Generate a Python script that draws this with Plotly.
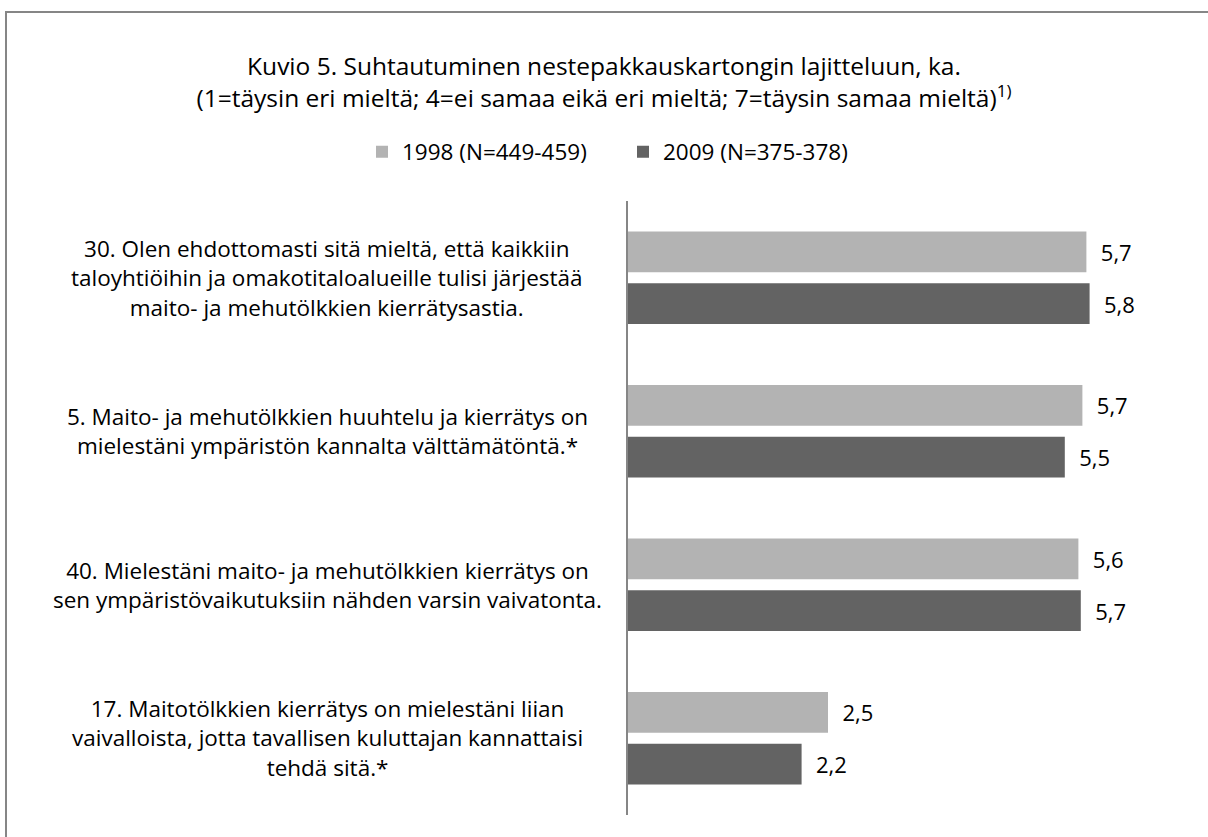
import plotly.graph_objects as go

categories = [
    "30. Olen ehdottomasti sitä mieltä, että kaikkiin<br>taloyhtiöihin ja omakotitaloalueille tulisi järjestää<br>maito- ja mehutölkkien kierrätysastia.",
    "5. Maito- ja mehutölkkien huuhtelu ja kierrätys on<br>mielestäni ympäristön kannalta välttämätöntä.*",
    "40. Mielestäni maito- ja mehutölkkien kierrätys on<br>sen ympäristövaikutuksiin nähden varsin vaivatonta.",
    "17. Maitotölkkien kierrätys on mielestäni liian<br>vaivalloista, jotta tavallisen kuluttajan kannattaisi<br>tehdä sitä.*",
]
keys = ["q30", "q5", "q40", "q17"]
values_1998 = [5.73, 5.68, 5.63, 2.50]
values_2009 = [5.77, 5.46, 5.66, 2.17]
series_names = ["1998 (N=449-459)", "2009 (N=375-378)"]
colors = ["#b3b3b3", "#636363"]

FONT = "'Open Sans', sans-serif"
FS = 22.5
W, H = 1208, 837
L, R, T, B = 628, 20, 201, 22
pw, ph = W - L - R, H - T - B

fig = go.Figure()
for name, vals, col in zip(series_names, [values_1998, values_2009], colors):
    fig.add_trace(go.Bar(
        y=keys, x=vals, name=name, orientation="h",
        marker=dict(color=col, line=dict(width=0)),
        texttemplate="  %{x:.1f}", textposition="outside",
        textfont=dict(size=22, color="#000000", family=FONT),
        cliponaxis=False,
    ))

# centred category labels left of the axis
for k, lab in zip(keys, categories):
    fig.add_annotation(
        x=(327 - L) / pw, xref="paper", y=k, yref="y",
        text=lab, showarrow=False, align="center", xanchor="center",
        font=dict(size=FS, color="#000000", family=FONT),
    )

# outer frame
fig.add_shape(type="rect", xref="paper", yref="paper",
              x0=(6 - L) / pw, x1=(1230 - L) / pw,
              y0=-(860 - (H - B)) / ph, y1=((H - B) - 12) / ph,
              line=dict(color="#868686", width=2), layer="above")

fig.update_layout(
    width=W, height=H,
    margin=dict(l=L, r=R, t=T, b=B),
    paper_bgcolor="white", plot_bgcolor="white",
    separators=", ",
    barmode="group", bargap=0.325, bargroupgap=0.21,
    font=dict(family=FONT, size=FS, color="#000000"),
    title=dict(
        text="Kuvio 5. Suhtautuminen nestepakkauskartongin lajitteluun, ka.<br>(1=täysin eri mieltä; 4=ei samaa eikä eri mieltä; 7=täysin samaa mieltä)<sup>1)</sup>",
        x=0.5, xref="container", xanchor="center", y=1 - 75 / H, yref="container", yanchor="top",
        font=dict(size=24.5, family=FONT, color="#000000"),
    ),
    legend=dict(orientation="h", x=(362 - L) / pw, xanchor="left",
                y=1 + (T - 152) / ph, yanchor="middle",
                font=dict(size=FS, family=FONT), entrywidth=216,
                traceorder="normal"),
    xaxis=dict(range=[0, 7], showgrid=False, zeroline=False,
               showticklabels=False, showline=False, fixedrange=True),
    yaxis=dict(autorange="reversed", showticklabels=False, showgrid=False,
               showline=True, linecolor="#868686", linewidth=2, ticks=""),
)

fig.write_html("out.html", config={"displayModeBar": False},
               post_script="document.body.style.margin='0';")
